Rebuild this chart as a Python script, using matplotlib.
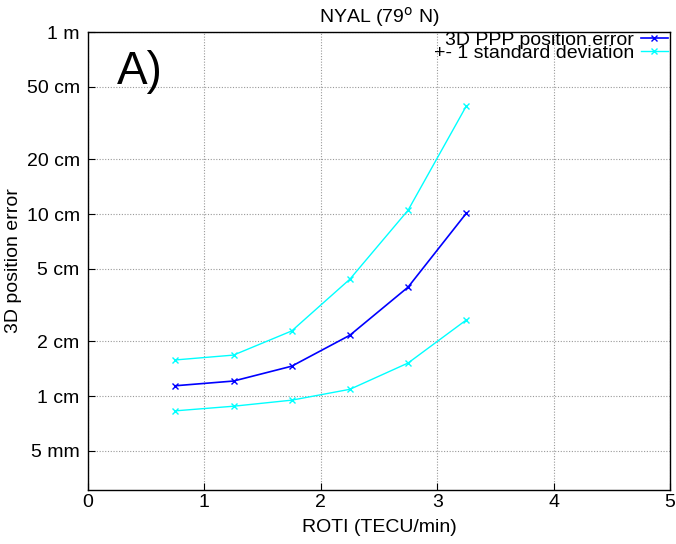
import numpy as np
import matplotlib.pyplot as plt
from matplotlib.ticker import FixedLocator, NullLocator

plt.rcParams['font.family'] = ['Liberation Sans', 'DejaVu Sans']

# ROTI bins (TECU/min) and 3D position error (m)
roti = [0.75, 1.25, 1.75, 2.25, 2.75, 3.25]
err_mean = [0.0114, 0.0121, 0.0146, 0.0216, 0.0397, 0.101]
err_upper = [0.0158, 0.0168, 0.0228, 0.0439, 0.105, 0.392]
err_lower = [0.0083, 0.0088, 0.0095, 0.0109, 0.0152, 0.0262]

ytick_vals = [0.005, 0.01, 0.02, 0.05, 0.1, 0.2, 0.5, 1.0]
ytick_labels = ['5 mm', '1 cm', '2 cm', '5 cm', '10 cm', '20 cm', '50 cm', '1 m']

fsize = 14

fig = plt.figure(figsize=(6.76, 5.44), dpi=100)
ax = fig.add_axes([88/676, 1-490/544, (670-88)/676, (490-32)/544])

ax.plot(roti, err_mean, color='#0000ff', marker='x', markersize=4, lw=1.2,
        label='3D PPP position error')
ax.plot(roti, err_upper, color='#00ffff', marker='x', markersize=4, lw=1.0,
        label='+- 1 standard deviation')
ax.plot(roti, err_lower, color='#00ffff', marker='x', markersize=4, lw=1.0)

ax.set_yscale('log')
ax.set_xlim(0, 5)
ax.set_ylim(0.00305, 1.0)
ax.yaxis.set_major_locator(FixedLocator(ytick_vals))
ax.set_yticklabels(ytick_labels)
ax.yaxis.set_minor_locator(NullLocator())
ax.set_xticks([0, 1, 2, 3, 4, 5])

ax.grid(True, color='#999999', linestyle=(0, (1, 1.5)), linewidth=0.8)
ax.tick_params(direction='in', length=5, labelsize=fsize, colors='black')
ax.tick_params(axis='x', pad=3)
ax.tick_params(axis='y', pad=6)
for s in ax.spines.values():
    s.set_linewidth(1.0)

ax.set_xlabel('ROTI (TECU/min)', fontsize=fsize, labelpad=6)
ax.set_ylabel('3D position error', fontsize=fsize, labelpad=3)
ax.set_title(r'NYAL (79$^{\rm o}$ N)', fontsize=fsize, pad=7)

ax.text(0.05, 0.96, 'A)', transform=ax.transAxes, fontsize=33, va='top', ha='left')

leg = ax.legend(loc='upper right', bbox_to_anchor=(1.0, 1.006), frameon=False,
                markerfirst=False, fontsize=fsize, handlelength=1.4,
                handletextpad=0.35, labelspacing=-0.25, borderaxespad=0.0,
                borderpad=0.1)
for t in leg.get_texts():
    t.set_ha('right')

fig.savefig('out.png', dpi=100)
